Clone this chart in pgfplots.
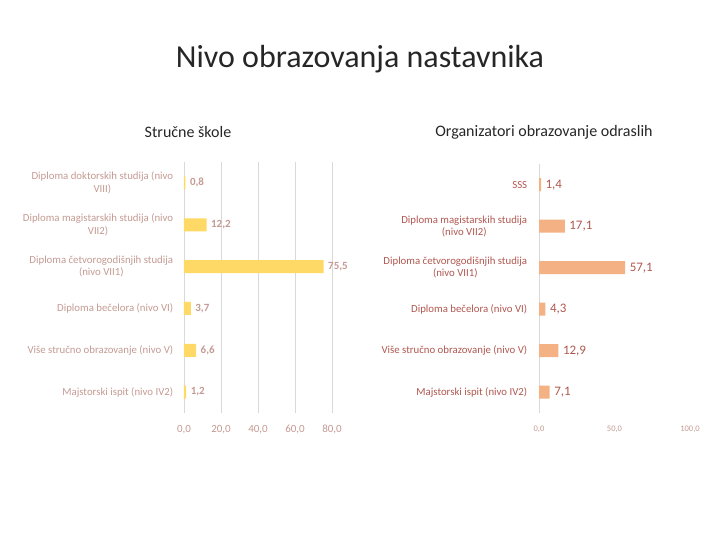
\documentclass[border=0pt]{standalone}
\usepackage{pgfplots}
\pgfplotsset{compat=1.18}
\usepackage{fontspec}
\setmainfont{Carlito}
\definecolor{barY}{HTML}{FFD966}
\definecolor{barO}{HTML}{F4B183}
\definecolor{labL}{HTML}{C49A92}
\definecolor{labR}{HTML}{B0574F}
\definecolor{gridc}{HTML}{D9D9D9}
\begin{document}
\begin{tikzpicture}[x=1pt,y=1pt]
\useasboundingbox (0,0) rectangle (720,540);
\node[font=\fontsize{32}{34}\selectfont, text=black!85] at (360,481) {Nivo obrazovanja nastavnika};
\node[font=\fontsize{16}{18}\selectfont, text=black!85] at (188,408) {Stručne škole};
\node[font=\fontsize{16}{18}\selectfont, text=black!85] at (544,408) {Organizatori obrazovanje odraslih};
% left axis
\begin{axis}[
  at={(184pt,127pt)}, anchor=south west,
  scale only axis, width=148pt, height=251pt,
  xbar, bar width=13pt,
  xmin=0, xmax=80,
  ymin=-0.5, ymax=5.5, y dir=reverse,
  ytick={0,1,2,3,4,5},
  yticklabels={{Diploma doktorskih studija (nivo\\VIII)},{Diploma magistarskih studija (nivo\\VII2)},{Diploma četvorogodišnjih studija\\(nivo VII1)},{Diploma bečelora (nivo VI)},{Više stručno obrazovanje (nivo V)},{Majstorski ispit (nivo IV2)}},
  yticklabel style={align=center, font=\fontsize{10.8}{12.5}\selectfont, text=labL, xshift=-3pt},
  xtick={0,20,40,60,80},
  xticklabel style={font=\fontsize{11}{12}\selectfont, text=labL, yshift=-8pt, text height=1.6ex, text depth=0.3ex},
  /pgf/number format/assume math mode=true,
  xticklabel={\pgfmathprintnumber[fixed,fixed zerofill,precision=1,use comma]{\tick}},
  xmajorgrids, grid style={gridc, line width=0.8pt},
  axis line style={draw=none}, tick style={draw=none},
  nodes near coords={\pgfmathprintnumber[fixed,fixed zerofill,precision=1,use comma]{\pgfplotspointmeta}},
  nodes near coords style={font=\bfseries\fontsize{11}{12}\selectfont, text=labL, xshift=1pt},
]
\addplot[fill=barY, draw=none] coordinates {(0.8,0) (12.2,1) (75.5,2) (3.7,3) (6.6,4) (1.2,5)};
\end{axis}
% right axis
\begin{axis}[
  at={(539pt,127pt)}, anchor=south west,
  scale only axis, width=151pt, height=249pt,
  xbar, bar width=13pt,
  xmin=0, xmax=100,
  ymin=-0.5, ymax=5.5, y dir=reverse,
  ytick={0,1,2,3,4,5},
  yticklabels={{SSS},{Diploma magistarskih studija\\(nivo VII2)},{Diploma četvorogodišnjih studija\\(nivo VII1)},{Diploma bečelora (nivo VI)},{Više stručno obrazovanje (nivo V)},{Majstorski ispit (nivo IV2)}},
  yticklabel style={align=center, font=\fontsize{10.8}{12.5}\selectfont, text=labR, xshift=-4pt},
  xtick={0,50,100},
  xticklabel style={font=\fontsize{8.5}{10}\selectfont, text=labL, yshift=-7pt, text height=1.6ex, text depth=0.3ex},
  /pgf/number format/assume math mode=true,
  xticklabel={\pgfmathprintnumber[fixed,fixed zerofill,precision=1,use comma]{\tick}},
  extra x ticks={0}, extra x tick labels={}, extra x tick style={xmajorgrids=true, grid style={gridc, line width=0.8pt}},
  axis line style={draw=none}, tick style={draw=none},
  nodes near coords={\pgfmathprintnumber[fixed,fixed zerofill,precision=1,use comma]{\pgfplotspointmeta}},
  nodes near coords style={font=\fontsize{13}{14}\selectfont, text=labR, xshift=1pt},
]
\addplot[fill=barO, draw=none] coordinates {(1.4,0) (17.1,1) (57.1,2) (4.3,3) (12.9,4) (7.1,5)};
\end{axis}
\end{tikzpicture}
\end{document}
